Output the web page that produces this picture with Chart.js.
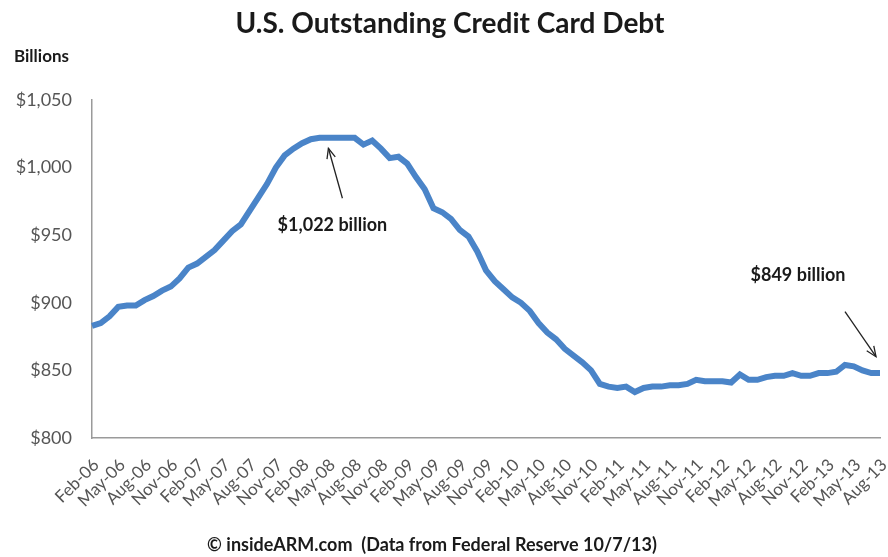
<!DOCTYPE html>
<html>
<head>
<meta charset="utf-8">
<script src="https://cdn.jsdelivr.net/npm/chart.js@4"></script>
<style>
  body { margin: 0; background: #fff; }
  #wrap { width: 888px; height: 557px; }
</style>
</head>
<body>
<div id="wrap"><canvas id="debtChart" width="888" height="557"></canvas></div>
<script>
const months = [
  'Feb-06','Mar-06','Apr-06','May-06','Jun-06','Jul-06','Aug-06','Sep-06','Oct-06','Nov-06','Dec-06',
  'Jan-07','Feb-07','Mar-07','Apr-07','May-07','Jun-07','Jul-07','Aug-07','Sep-07','Oct-07','Nov-07','Dec-07',
  'Jan-08','Feb-08','Mar-08','Apr-08','May-08','Jun-08','Jul-08','Aug-08','Sep-08','Oct-08','Nov-08','Dec-08',
  'Jan-09','Feb-09','Mar-09','Apr-09','May-09','Jun-09','Jul-09','Aug-09','Sep-09','Oct-09','Nov-09','Dec-09',
  'Jan-10','Feb-10','Mar-10','Apr-10','May-10','Jun-10','Jul-10','Aug-10','Sep-10','Oct-10','Nov-10','Dec-10',
  'Jan-11','Feb-11','Mar-11','Apr-11','May-11','Jun-11','Jul-11','Aug-11','Sep-11','Oct-11','Nov-11','Dec-11',
  'Jan-12','Feb-12','Mar-12','Apr-12','May-12','Jun-12','Jul-12','Aug-12','Sep-12','Oct-12','Nov-12','Dec-12',
  'Jan-13','Feb-13','Mar-13','Apr-13','May-13','Jun-13','Jul-13','Aug-13'
];

// outstanding revolving credit, billions of dollars
const debt = [
  883, 885, 890, 897, 898, 898, 902, 905, 909, 912, 918,
  926, 929, 934, 939, 946, 953, 958, 968, 978, 988, 1000, 1009,
  1014, 1018, 1021, 1022, 1022, 1022, 1022, 1022, 1017, 1020, 1014, 1007,
  1008, 1003, 993, 984, 970, 967, 962, 954, 949, 938, 924, 916,
  910, 904, 900, 894, 885, 878, 873, 866, 861, 856, 850, 840,
  838, 837, 838, 834, 837, 838, 838, 839, 839, 840, 843, 842,
  842, 842, 841, 847, 843, 843, 845, 846, 846, 848, 846, 846,
  848, 848, 849, 854, 853, 850, 848, 848
];

const yTicks = [800, 850, 900, 950, 1000, 1050];

const titleText = 'U.S. Outstanding Credit Card Debt';
const unitText = 'Billions';
const sourceText = '\u00A9 insideARM.com  (Data from Federal Reserve 10/7/13)';
const notes = [
  { text: '$1,022 billion', index: 27, value: 1018 },
  { text: '$849 billion', index: 90, value: 852 }
];

const FONT = 'Lato, "Open Sans", sans-serif';

function arrow(ctx, x1, y1, x2, y2) {
  ctx.beginPath();
  ctx.moveTo(x1, y1);
  ctx.lineTo(x2, y2);
  ctx.stroke();
  const a = Math.atan2(y2 - y1, x2 - x1);
  const len = 11;
  ctx.beginPath();
  ctx.moveTo(x2 - len * Math.cos(a - 0.4), y2 - len * Math.sin(a - 0.4));
  ctx.lineTo(x2, y2);
  ctx.lineTo(x2 - len * Math.cos(a + 0.4), y2 - len * Math.sin(a + 0.4));
  ctx.stroke();
}

const textPlugin = {
  id: 'texts',
  afterDraw(chart) {
    const ctx = chart.ctx;
    const xs = chart.scales.x, ys = chart.scales.y;
    ctx.save();
    ctx.fillStyle = '#1a1a1a';
    ctx.textBaseline = 'middle';

    ctx.textAlign = 'center';
    ctx.font = 'bold 28px ' + FONT;
    ctx.fillText(titleText, 450, 24);

    ctx.textAlign = 'left';
    ctx.font = 'bold 17px ' + FONT;
    ctx.fillText(unitText, 14, 57);

    ctx.textAlign = 'center';
    ctx.font = 'bold 18px ' + FONT;
    ctx.fillText(sourceText, 432, 545);

    // annotations
    ctx.strokeStyle = '#222';
    ctx.lineWidth = 1.3;
    ctx.font = 'bold 18px ' + FONT;

    const p = notes[0];
    const px = xs.getPixelForValue(p.index), py = ys.getPixelForValue(p.value);
    arrow(ctx, px + 14, py + 55, px, py + 5);
    ctx.textAlign = 'center';
    ctx.fillText(p.text, px + 4, py + 82);

    const q = notes[1];
    const qx = xs.getPixelForValue(q.index), qy = ys.getPixelForValue(q.value);
    arrow(ctx, qx - 35, qy - 56, qx - 4, qy - 11);
    ctx.fillText(q.text, qx - 82, qy - 93);
    ctx.restore();
  }
};

new Chart(document.getElementById('debtChart'), {
  type: 'line',
  data: {
    labels: months,
    datasets: [{
      data: debt,
      borderColor: '#4a84c8',
      borderWidth: 6,
      pointRadius: 0,
      tension: 0,
      fill: false
    }]
  },
  options: {
    responsive: false,
    animation: false,
    devicePixelRatio: 1,
    layout: { padding: { top: 100, right: 8, left: 0, bottom: 0 } },
    plugins: {
      legend: { display: false },
      title: { display: false },
      tooltip: { enabled: false }
    },
    scales: {
      x: {
        offset: false,
        grid: { display: false, drawTicks: false },
        border: { display: true, color: '#9a9a9a', width: 1.5 },
        ticks: {
          autoSkip: false,
          maxRotation: 45,
          minRotation: 45,
          padding: 17,
          labelOffset: 4,
          color: '#555',
          font: { family: FONT, size: 17 },
          callback: (val, i) => (i % 3 === 0 ? months[i] : null)
        },
        afterFit: (s) => { s.height = 119; s.paddingLeft = 0; s.paddingRight = 0; }
      },
      y: {
        min: 800,
        max: 1050,
        afterBuildTicks: (s) => { s.ticks = yTicks.map(v => ({ value: v })); },
        grid: { display: false, drawTicks: false },
        border: { display: true, color: '#9a9a9a', width: 1.5 },
        ticks: {
          padding: 20,
          color: '#555',
          font: { family: FONT, size: 18 },
          callback: (v) => '$' + v.toLocaleString('en-US')
        },
        afterFit: (s) => { s.width = 92; }
      }
    }
  },
  plugins: [textPlugin]
});
</script>
</body>
</html>
